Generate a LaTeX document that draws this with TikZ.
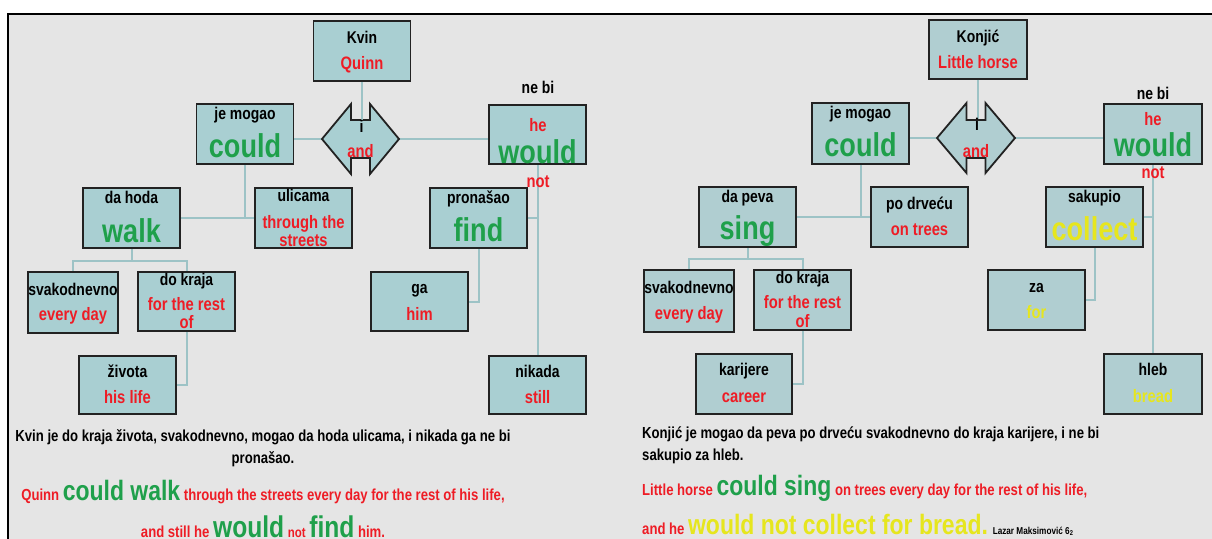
\documentclass[tikz,border=0pt]{standalone}
\usepackage{fontspec}
\setmainfont{Liberation Sans}[FakeStretch=0.82]
\definecolor{bg}{HTML}{E5E5E5}
\definecolor{boxA}{HTML}{A9CFD2}
\definecolor{boxB}{HTML}{B0CED1}
\definecolor{edge}{HTML}{222222}
\definecolor{link}{HTML}{9DC3C6}
\definecolor{red1}{HTML}{EE1C25}
\definecolor{green1}{HTML}{1FA04B}
\definecolor{yel1}{HTML}{E6E61E}
\newcommand\fsz[1]{\fontsize{#1}{#1}\selectfont}
\tikzset{
  box/.style={draw=edge, line width=1.8pt, fill=boxA, inner sep=0pt, minimum width=97pt, minimum height=60pt},
  boxr/.style={box, fill=boxB},
  conn/.style={draw=link, line width=2pt},
  andshape/.style={draw=edge, line width=1.8pt, fill=boxA, line join=miter},
  blk/.style={anchor=base, inner sep=0pt, text=black, font=\bfseries\fsz{17}},
  rd/.style={anchor=base, inner sep=0pt, text=red1, font=\bfseries\fsz{18}},
  gr/.style={anchor=base, inner sep=0pt, text=green1, font=\bfseries\fsz{33}},
  yl/.style={anchor=base, inner sep=0pt, text=yel1, font=\bfseries\fsz{18}},
  ylbig/.style={anchor=base, inner sep=0pt, text=yel1, font=\bfseries\fsz{33}},
  sent/.style={anchor=base, inner sep=0pt, font=\bfseries\fsz{16}},
}
\begin{document}
\begin{tikzpicture}[x=1pt,y=-1pt]
\useasboundingbox (0,0) rectangle (1212,538);
\clip (0,0) rectangle (1212,538);
\fill[white] (0,0) rectangle (1212,538);
\draw[line width=1.5pt, fill=bg] (8,14) rectangle (1240,570);

% ---------------- LEFT ----------------
\node[box] (kvin) at (362,51) {};
\node[box] (mogaoL) at (245,134) {};
\node[box, minimum height=59pt] (nebiL) at (537.5,134.5) {};
\node[box] (walk) at (131.5,218) {};
\node[box] (ulicama) at (303.5,218) {};
\node[box] (find) at (478.5,218) {};
\node[box, minimum width=90pt, minimum height=61pt] (svakL) at (73,302.5) {};
\node[box, minimum height=59pt] (krajaL) at (186.5,301.5) {};
\node[box, minimum height=59pt] (ga) at (419.5,301.5) {};
\node[box, minimum height=58pt] (zivota) at (127.5,385) {};
\node[box, minimum height=58pt] (nikada) at (537.5,385) {};

\coordinate (andLc) at (360.5,139);
\coordinate (andLw) at (322,139);
\coordinate (andLe) at (399,139);
\coordinate (andLn) at (362,120);

% connectors left
\draw[conn] (andLw) -- (andLw -| mogaoL.east);
\draw[conn] (andLe) -- (andLe -| nebiL.west);
\draw[conn] (mogaoL.south) -- (mogaoL.south |- walk.east);
\draw[conn] (walk.east) -- (ulicama.west);
\draw[conn] (walk.south) -- ++(0,12) coordinate (wj);
\draw[conn] (svakL.north) |- (wj) -| (krajaL.north);
\draw[conn] (krajaL.south) |- (zivota.east);
\draw[conn] (nebiL.south) -- (nikada.north);
\draw[conn] (find.east) -- (find.east -| nebiL.south);
\draw[conn] (find.south) |- (ga.east);

% redraw boxes over connectors
\node[box] at (kvin) {};
\node[box] at (mogaoL) {};
\node[box, minimum height=59pt] at (nebiL) {};
\node[box] at (walk) {};
\node[box] at (ulicama) {};
\node[box] at (find) {};

\begin{scope}[shift={(andLc)}]
\draw[andshape] (-38.5,0) -- (-9.5,-35) -- (-9.5,-19) -- (9.5,-19) -- (9.5,-35) -- (38.5,0) -- (9.5,35) -- (9.5,19) -- (-9.5,19) -- (-9.5,35) -- cycle;
\end{scope}
\draw[conn] (kvin.south) -- (andLn);

% texts left
\node[blk] (t1) at (362,43) {Kvin};
\node[rd] (t2) at (362,69) {Quinn};
\node[blk] (t3) at (361.5,132) {i};
\node[rd] (t4) at (360.5,157) {and};
\node[blk] (t5) at (245,119) {je mogao};
\node[gr] (t6) at (245,157) {could};
\node[blk] (t7) at (538,93) {ne bi};
\node[rd] (t8) at (538,131) {he};
\node[gr] (t9) at (537.5,163) {would};
\node[rd] (t10) at (538,187) {not};
\node[blk] (t11) at (131.5,203) {da hoda};
\node[gr] (t12) at (131.5,242) {walk};
\node[blk] (t13) at (303.5,201) {ulicama};
\node[rd] (t14) at (303.5,228) {through the};
\node[rd] (t15) at (303.5,246) {streets};
\node[blk] (t16) at (478.5,203) {pronašao};
\node[gr] (t17) at (478.5,241) {find};
\node[blk] (t18) at (73,295) {svakodnevno};
\node[rd] (t19) at (73,320) {every day};
\node[blk] (t20) at (186.5,285) {do kraja};
\node[rd] (t21) at (186.5,310) {for the rest};
\node[rd] (t22) at (186.5,328) {of};
\node[blk] (t23) at (127.5,377) {života};
\node[rd] (t24) at (127.5,403) {his life};
\node[blk] (t25) at (419.5,293) {ga};
\node[rd] (t26) at (419.5,320) {him};
\node[blk] (t27) at (537.5,377) {nikada};
\node[rd] (t28) at (537.5,403) {still};

% ---------------- RIGHT ----------------
\node[boxr, minimum width=98pt, minimum height=59pt] (konjic) at (978,49.5) {};
\node[boxr, minimum height=61pt] (mogaoR) at (860.5,133.5) {};
\node[boxr, minimum width=98pt] (nebiR) at (1153,134) {};
\node[boxr] (sing) at (747.5,217) {};
\node[boxr] (podrvecu) at (919.5,217) {};
\node[boxr] (collect) at (1094.5,217) {};
\node[boxr, minimum width=90pt, minimum height=62pt] (svakR) at (689,301) {};
\node[boxr] (krajaR) at (802.5,300) {};
\node[boxr] (za) at (1036.5,300) {};
\node[boxr, minimum width=96pt] (karijere) at (744,384) {};
\node[boxr, minimum width=98pt] (hleb) at (1153,384) {};

\coordinate (andRc) at (976,138);
\coordinate (andRw) at (937,138);
\coordinate (andRe) at (1015,138);
\coordinate (andRn) at (978,119);

\draw[conn] (andRw) -- (andRw -| mogaoR.east);
\draw[conn] (andRe) -- (andRe -| nebiR.west);
\draw[conn] (mogaoR.south) -- (mogaoR.south |- sing.east);
\draw[conn] (sing.east) -- (podrvecu.west);
\draw[conn] (sing.south) -- ++(0,11) coordinate (sj);
\draw[conn] (svakR.north) |- (sj) -| (krajaR.north);
\draw[conn] (krajaR.south) |- (karijere.east);
\draw[conn] (nebiR.south) -- (hleb.north);
\draw[conn] (collect.east) -- (collect.east -| nebiR.south);
\draw[conn] (collect.south) |- (za.east);

\node[boxr, minimum width=98pt, minimum height=59pt] at (konjic) {};
\node[boxr, minimum height=61pt] at (mogaoR) {};
\node[boxr, minimum width=98pt] at (nebiR) {};
\node[boxr] at (sing) {};
\node[boxr] at (podrvecu) {};
\node[boxr] at (collect) {};

\begin{scope}[shift={(andRc)}]
\draw[andshape, fill=boxB] (-39,0) -- (-9.5,-35) -- (-9.5,-18) -- (9.5,-18) -- (9.5,-35) -- (39,0) -- (9.5,35) -- (9.5,20) -- (-9.5,20) -- (-9.5,35) -- cycle;
\end{scope}
\draw[conn] (konjic.south) -- (andRn);

\node[blk] (u1) at (978,42) {Konjić};
\node[rd] (u2) at (978,68) {Little horse};
\node[blk] (u3) at (977,130) {i};
\node[rd] (u4) at (976,157) {and};
\node[blk] (u5) at (860.5,118) {je mogao};
\node[gr] (u6) at (860.5,156) {could};
\node[blk] (u7) at (1153,99) {ne bi};
\node[rd] (u8) at (1153,125) {he};
\node[gr] (u9) at (1153,156) {would};
\node[rd] (u10) at (1153,178) {not};
\node[blk] (u11) at (747.5,202) {da peva};
\node[gr] (u12) at (747.5,239) {sing};
\node[blk] (u13) at (919.5,209) {po drveću};
\node[rd] (u14) at (919.5,235) {on trees};
\node[blk] (u15) at (1094.5,202) {sakupio};
\node[ylbig] (u16) at (1094.5,240) {collect};
\node[blk] (u17) at (689,293) {svakodnevno};
\node[rd] (u18) at (689,319) {every day};
\node[blk] (u19) at (802.5,283) {do kraja};
\node[rd] (u20) at (802.5,308) {for the rest};
\node[rd] (u21) at (802.5,327) {of};
\node[blk] (u22) at (744,375) {karijere};
\node[rd] (u23) at (744,402) {career};
\node[blk] (u24) at (1036.5,292) {za};
\node[yl] (u25) at (1036.5,318) {for};
\node[blk] (u26) at (1153,375) {hleb};
\node[yl] (u27) at (1153,402) {bread};

% ---------------- SENTENCES ----------------
\node[sent] (s1) at (263,441) {Kvin je do kraja života, svakodnevno, mogao da hoda ulicama, i nikada ga ne bi};
\node[sent] (s2) at (263,463) {pronašao.};
\node[sent, text=red1] (s3) at (263,500) {Quinn {\color{green1}\fsz{28}could walk} through the streets every day for the rest of his life,};
\node[sent, text=red1] (s4) at (263,537) {and still he {\color{green1}\fsz{30}would} {\fsz{14}not} {\color{green1}\fsz{30}find} him.};

\node[sent, anchor=base west] (r1) at (642,438) {Konjić je mogao da peva po drveću svakodnevno do kraja karijere, i ne bi};
\node[sent, anchor=base west] (r2) at (642,460) {sakupio za hleb.};
\node[sent, anchor=base west, text=red1] (r3) at (642,495) {Little horse {\color{green1}\fsz{28}could sing} on trees every day for the rest of his life,};
\node[sent, anchor=base west, text=red1] (r4) at (642,534) {and he {\color{yel1}\fsz{28}would not collect for bread.} {\color{black}\fsz{10}Lazar Maksimović 6\textsubscript{2}}};
\end{tikzpicture}
\end{document}
